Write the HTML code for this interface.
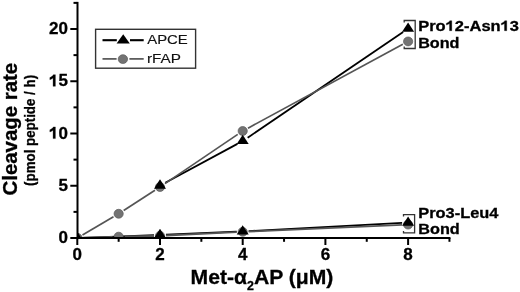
<!DOCTYPE html>
<html><head><meta charset="utf-8"><style>
html,body{margin:0;padding:0;background:#fff;}
body{width:520px;height:292px;overflow:hidden;}
svg{display:block;will-change:transform;}
text{font-family:"Liberation Sans",sans-serif;fill:#000;stroke:#000;stroke-width:0.3px;}
.h1{fill:none;stroke:none;}
.tl{font-weight:bold;font-size:17px;}
.ann{font-weight:bold;font-size:14.5px;}
.leg{font-size:13.2px;fill:#111;stroke:#111;stroke-width:0.15px;}
.yt{font-weight:bold;font-size:20px;}
.ys{font-weight:bold;font-size:13.8px;}
.xt{font-weight:bold;font-size:20.5px;}
</style></head><body>
<svg width="520" height="292" viewBox="0 0 520 292">
<defs><clipPath id="clip"><rect x="77.3" y="0" width="400" height="238.0"/></clipPath></defs>
<g clip-path="url(#clip)">
<line x1="165.28" y1="182.70" x2="237.42" y2="143.87" stroke="#000" stroke-width="1.8"/>
<line x1="247.66" y1="137.65" x2="403.14" y2="31.96" stroke="#000" stroke-width="1.8"/>
<line x1="83.30" y1="237.77" x2="154.00" y2="235.09" stroke="#000" stroke-width="1.7"/>
<line x1="165.99" y1="234.62" x2="236.71" y2="231.67" stroke="#000" stroke-width="1.7"/>
<line x1="248.69" y1="231.10" x2="402.11" y2="222.96" stroke="#000" stroke-width="1.7"/>
<line x1="82.48" y1="234.97" x2="113.47" y2="216.79" stroke="#555" stroke-width="1.7"/>
<line x1="123.69" y1="210.50" x2="154.96" y2="190.26" stroke="#555" stroke-width="1.7"/>
<line x1="164.97" y1="183.64" x2="237.73" y2="134.36" stroke="#555" stroke-width="1.7"/>
<line x1="247.98" y1="128.14" x2="402.82" y2="44.29" stroke="#555" stroke-width="1.7"/>
<line x1="83.30" y1="237.80" x2="112.65" y2="236.84" stroke="#555" stroke-width="1.9"/>
<line x1="124.65" y1="236.52" x2="154.00" y2="235.93" stroke="#555" stroke-width="1.9"/>
<line x1="165.99" y1="235.52" x2="236.71" y2="232.12" stroke="#555" stroke-width="1.9"/>
<line x1="248.69" y1="231.57" x2="402.11" y2="224.89" stroke="#555" stroke-width="1.9"/>
<ellipse cx="77.30" cy="238.00" rx="4.6" ry="4.45" fill="#737373" stroke="#5a5a5a" stroke-width="0.7"/>
<ellipse cx="118.65" cy="213.76" rx="4.6" ry="4.45" fill="#737373" stroke="#5a5a5a" stroke-width="0.7"/>
<ellipse cx="160.00" cy="187.00" rx="4.6" ry="4.45" fill="#737373" stroke="#5a5a5a" stroke-width="0.7"/>
<ellipse cx="242.70" cy="130.99" rx="4.6" ry="4.45" fill="#737373" stroke="#5a5a5a" stroke-width="0.7"/>
<ellipse cx="408.10" cy="41.44" rx="4.6" ry="4.45" fill="#737373" stroke="#5a5a5a" stroke-width="0.7"/>
<ellipse cx="77.30" cy="238.00" rx="4.6" ry="4.45" fill="#737373" stroke="#5a5a5a" stroke-width="0.7"/>
<ellipse cx="118.65" cy="236.64" rx="4.6" ry="4.45" fill="#737373" stroke="#5a5a5a" stroke-width="0.7"/>
<ellipse cx="160.00" cy="235.81" rx="4.6" ry="4.45" fill="#737373" stroke="#5a5a5a" stroke-width="0.7"/>
<ellipse cx="242.70" cy="231.83" rx="4.6" ry="4.45" fill="#737373" stroke="#5a5a5a" stroke-width="0.7"/>
<ellipse cx="408.10" cy="224.62" rx="4.6" ry="4.45" fill="#737373" stroke="#5a5a5a" stroke-width="0.7"/>
<polygon points="154.00,188.64 166.00,188.64 160.00,179.34" fill="#000"/>
<polygon points="236.70,144.12 248.70,144.12 242.70,134.82" fill="#000"/>
<polygon points="402.10,31.68 414.10,31.68 408.10,22.38" fill="#000"/>
<polygon points="71.30,241.10 83.30,241.10 77.30,231.80" fill="#000"/>
<polygon points="154.00,237.97 166.00,237.97 160.00,228.67" fill="#000"/>
<polygon points="236.70,234.52 248.70,234.52 242.70,225.22" fill="#000"/>
<polygon points="402.10,225.74 414.10,225.74 408.10,216.44" fill="#000"/>
</g>
<line x1="77.5" y1="1.8750000000000284" x2="77.5" y2="239.1" stroke="#000" stroke-width="2"/>
<line x1="76.3" y1="238.0" x2="450.45000000000005" y2="238.0" stroke="#000" stroke-width="2.2"/>
<line x1="70.3" y1="238.0" x2="77.3" y2="238.0" stroke="#000" stroke-width="2"/>
<line x1="70.3" y1="185.75" x2="77.3" y2="185.75" stroke="#000" stroke-width="2"/>
<line x1="70.3" y1="133.5" x2="77.3" y2="133.5" stroke="#000" stroke-width="2"/>
<line x1="70.3" y1="81.25" x2="77.3" y2="81.25" stroke="#000" stroke-width="2"/>
<line x1="70.3" y1="29.0" x2="77.3" y2="29.0" stroke="#000" stroke-width="2"/>
<line x1="73.5" y1="211.875" x2="77.3" y2="211.875" stroke="#000" stroke-width="2"/>
<line x1="73.5" y1="159.625" x2="77.3" y2="159.625" stroke="#000" stroke-width="2"/>
<line x1="73.5" y1="107.375" x2="77.3" y2="107.375" stroke="#000" stroke-width="2"/>
<line x1="73.5" y1="55.125" x2="77.3" y2="55.125" stroke="#000" stroke-width="2"/>
<line x1="73.5" y1="2.8750000000000284" x2="77.3" y2="2.8750000000000284" stroke="#000" stroke-width="2"/>
<line x1="77.3" y1="238.0" x2="77.3" y2="245.0" stroke="#000" stroke-width="2"/>
<line x1="160.0" y1="238.0" x2="160.0" y2="245.0" stroke="#000" stroke-width="2"/>
<line x1="242.7" y1="238.0" x2="242.7" y2="245.0" stroke="#000" stroke-width="2"/>
<line x1="325.40000000000003" y1="238.0" x2="325.40000000000003" y2="245.0" stroke="#000" stroke-width="2"/>
<line x1="408.1" y1="238.0" x2="408.1" y2="245.0" stroke="#000" stroke-width="2"/>
<line x1="118.65" y1="238.0" x2="118.65" y2="241.8" stroke="#000" stroke-width="2"/>
<line x1="201.35000000000002" y1="238.0" x2="201.35000000000002" y2="241.8" stroke="#000" stroke-width="2"/>
<line x1="284.05" y1="238.0" x2="284.05" y2="241.8" stroke="#000" stroke-width="2"/>
<line x1="366.75" y1="238.0" x2="366.75" y2="241.8" stroke="#000" stroke-width="2"/>
<line x1="449.45000000000005" y1="238.0" x2="449.45000000000005" y2="241.8" stroke="#000" stroke-width="2"/>
<text x="68.0" y="243.10" text-anchor="end" class="tl">0</text>
<text x="68.0" y="190.85" text-anchor="end" class="tl">5</text>
<text x="68.0" y="138.60" text-anchor="end" class="tl"><tspan class="h1">1</tspan>0</text>
<text x="68.0" y="86.35" text-anchor="end" class="tl"><tspan class="h1">1</tspan>5</text>
<text x="68.0" y="34.10" text-anchor="end" class="tl">20</text>
<text x="77.30" y="260" text-anchor="middle" class="tl">0</text>
<text x="160.00" y="260" text-anchor="middle" class="tl">2</text>
<text x="242.70" y="260" text-anchor="middle" class="tl">4</text>
<text x="325.40" y="260" text-anchor="middle" class="tl">6</text>
<text x="408.10" y="260" text-anchor="middle" class="tl">8</text>
<path d="M759 0H478V1010Q320 880 90 800V1060Q230 1110 350 1210Q470 1310 510 1409H759Z" transform="translate(49.096,138.600) scale(0.00830,-0.00830)" fill="#000" stroke="#000" stroke-width="36.1"/>
<path d="M759 0H478V1010Q320 880 90 800V1060Q230 1110 350 1210Q470 1310 510 1409H759Z" transform="translate(49.096,86.350) scale(0.00830,-0.00830)" fill="#000" stroke="#000" stroke-width="36.1"/>
<path d="M759 0H478V1010Q320 880 90 800V1060Q230 1110 350 1210Q470 1310 510 1409H759Z" transform="translate(445.668,30.700) scale(0.00805,-0.00708)" fill="#000" stroke="#000" stroke-width="42.4"/>
<path d="M759 0H478V1010Q320 880 90 800V1060Q230 1110 350 1210Q470 1310 510 1409H759Z" transform="translate(500.640,30.700) scale(0.00805,-0.00708)" fill="#000" stroke="#000" stroke-width="42.4"/>
<path d="M404.2,22.4 V20.5 H415.2 V48.5 H404.2 V46.6" fill="none" stroke="#333" stroke-width="1.3"/>
<path d="M403.5,216.5 V214.6 H414.6 V232.8 H403.5 V230.9" fill="none" stroke="#333" stroke-width="1.3"/>
<text x="418.2" y="30.7" class="ann" textLength="100.8" lengthAdjust="spacingAndGlyphs">Pro<tspan class="h1">1</tspan>2-Asn<tspan class="h1">1</tspan>3</text>
<text x="418.2" y="47.9" class="ann" textLength="41.3" lengthAdjust="spacingAndGlyphs">Bond</text>
<text x="418.3" y="218.4" class="ann" textLength="80.1" lengthAdjust="spacingAndGlyphs">Pro3-Leu4</text>
<text x="418.3" y="234.3" class="ann" textLength="41.5" lengthAdjust="spacingAndGlyphs">Bond</text>
<rect x="95.6" y="29.3" width="100.0" height="38.9" fill="none" stroke="#333" stroke-width="1.4"/>
<line x1="102.5" y1="40.2" x2="116.8" y2="40.2" stroke="#000" stroke-width="2.1"/>
<line x1="130.0" y1="40.2" x2="143.7" y2="40.2" stroke="#000" stroke-width="2.1"/>
<polygon points="116.60,43.47 129.80,43.47 123.20,34.27" fill="#000"/>
<line x1="102.5" y1="58.9" x2="116.6" y2="58.9" stroke="#555" stroke-width="1.7"/>
<line x1="129.4" y1="58.9" x2="143.7" y2="58.9" stroke="#555" stroke-width="1.7"/>
<ellipse cx="122.90" cy="59.10" rx="4.7" ry="4.4" fill="#737373" stroke="#5a5a5a" stroke-width="0.7"/>
<text x="147.2" y="44.4" class="leg" textLength="40.6" lengthAdjust="spacingAndGlyphs">APCE</text>
<text x="146.9" y="63.2" class="leg" textLength="34.0" lengthAdjust="spacingAndGlyphs">rFAP</text>
<text transform="translate(16.7,195.5) rotate(-90)" class="yt" textLength="132.7" lengthAdjust="spacingAndGlyphs">Cleavage rate</text>
<text transform="translate(35.4,185.9) rotate(-90)" class="ys" textLength="111" lengthAdjust="spacingAndGlyphs">(pmol peptide / h)</text>
<text x="190.6" y="284.2" class="xt" textLength="142.8" lengthAdjust="spacingAndGlyphs">Met-<tspan>α</tspan><tspan dy="5.6" font-size="12">2</tspan><tspan dy="-5.6">AP (μM)</tspan></text>
</svg>
</body></html>
